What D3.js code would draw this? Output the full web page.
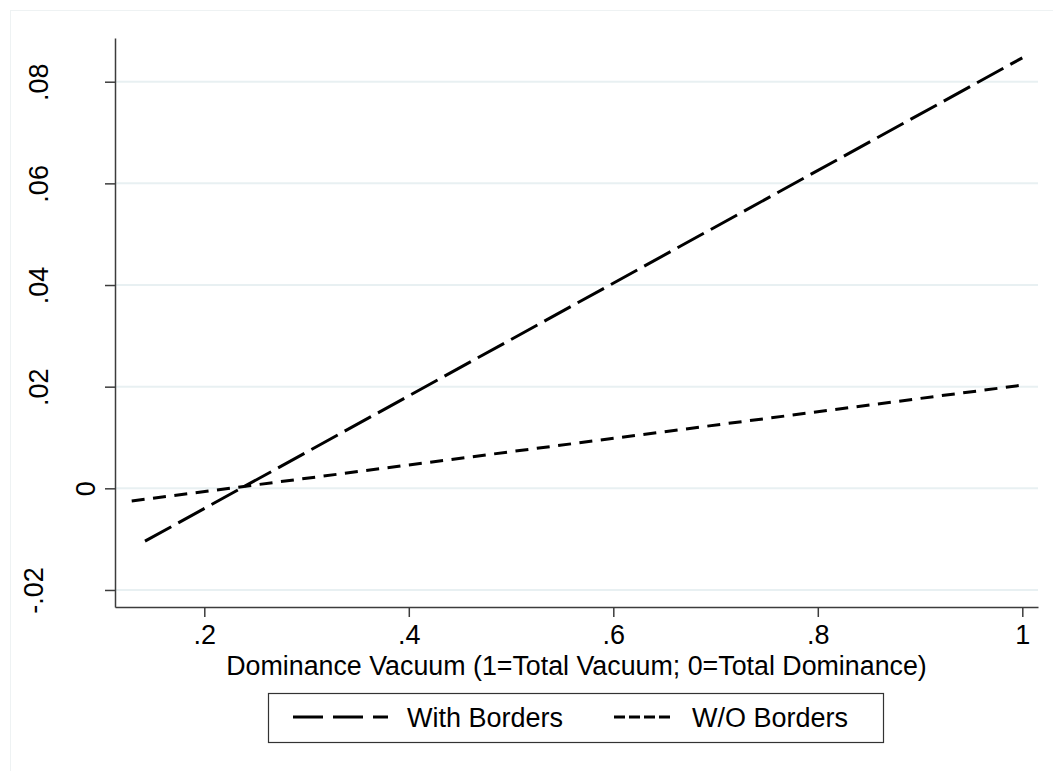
<!DOCTYPE html>
<html><head><meta charset="utf-8">
<script src="https://cdn.jsdelivr.net/npm/d3@7"></script>
<style>
html,body{margin:0;padding:0;background:#fff;}
svg text{font-family:"Liberation Sans",Arial,sans-serif;fill:#000;}
</style></head>
<body>
<svg id="chart" width="1053" height="771"></svg>
<script>
// ---- data ----
const seriesNames = ["With Borders", "W/O Borders"];
const withBordersX = [0.142, 1.0];
const withBordersY = [-0.0104, 0.0847];
const woBordersX = [0.129, 1.0];
const woBordersY = [-0.0025, 0.0203];
const xTickValues = [0.2, 0.4, 0.6, 0.8, 1.0];
const xTickLabels = [".2", ".4", ".6", ".8", "1"];
const yTickValues = [-0.02, 0, 0.02, 0.04, 0.06, 0.08];
const yTickLabels = ["-.02", "0", ".02", ".04", ".06", ".08"];
const xTitle = "Dominance Vacuum (1=Total Vacuum; 0=Total Dominance)";

// ---- layout ----
const svg = d3.select("#chart");
const plot = {left:115, right:1038, top:38, bottom:607};
const fontSize = 27;

svg.append("rect").attr("x",10.5).attr("y",10.5).attr("width",1100).attr("height",1000)
  .attr("fill","#fff").attr("stroke","#eef2f3").attr("stroke-width",1);

const x = d3.scaleLinear().domain([0.11267, 1.01535]).range([plot.left, plot.right]);
const y = d3.scaleLinear().domain([-0.02335, 0.0886]).range([plot.bottom, plot.top]);

// grid
svg.append("g").selectAll("line").data(yTickValues).join("line")
  .attr("x1",plot.left).attr("x2",plot.right)
  .attr("y1",d=>y(d)).attr("y2",d=>y(d))
  .attr("stroke","#e8f0f2").attr("stroke-width",2);

// axes
const xAxis = d3.axisBottom(x).tickValues(xTickValues)
  .tickFormat((d,i)=>xTickLabels[i]).tickSizeInner(10).tickSizeOuter(0).tickPadding(6);
const gx = svg.append("g").attr("transform",`translate(0,${plot.bottom})`).call(xAxis);
gx.select(".domain").attr("stroke","#3c3c3c").attr("stroke-width",1.5);
gx.selectAll(".tick line").attr("stroke","#3c3c3c").attr("stroke-width",1.5);
gx.selectAll(".tick text").attr("font-size",fontSize).attr("dy",null)
  .attr("y",37).attr("fill","#000");

const yAxis = d3.axisLeft(y).tickValues(yTickValues)
  .tickFormat((d,i)=>yTickLabels[i]).tickSizeInner(10).tickSizeOuter(0);
const gy = svg.append("g").attr("transform",`translate(${plot.left},0)`).call(yAxis);
gy.select(".domain").attr("stroke","#3c3c3c").attr("stroke-width",1.5);
gy.selectAll(".tick line").attr("stroke","#3c3c3c").attr("stroke-width",1.5);
gy.selectAll(".tick text").remove();
// rotated y labels (Stata-style: offset depends on label length)
gy.selectAll(".tick").each(function(d,i){
  const lab = yTickLabels[i];
  const bx = lab.length === 1 ? -20 : (lab.length === 3 ? -67 : -72);
  d3.select(this).append("text")
    .attr("transform",`translate(${bx},0) rotate(-90)`)
    .attr("text-anchor","middle").attr("font-size",fontSize).attr("fill","#000")
    .text(lab);
});
svg.selectAll(".tick text").attr("font-family","Liberation Sans, Arial, sans-serif");

// x title
svg.append("text").attr("x",(plot.left+plot.right)/2).attr("y",675)
  .attr("text-anchor","middle").attr("font-size",26.8).text(xTitle);

// lines
const line = d3.line().x(d=>x(d[0])).y(d=>y(d[1]));
const series = [
  {name:seriesNames[0], pts:d3.zip(withBordersX, withBordersY), dash:"30,8", ldash:"30,10"},
  {name:seriesNames[1], pts:d3.zip(woBordersX, woBordersY), dash:"13,8.5", ldash:"11,4"}
];
svg.append("g").selectAll("path").data(series).join("path")
  .attr("d",d=>line(d.pts)).attr("fill","none").attr("stroke","#000")
  .attr("stroke-width",3).attr("stroke-dasharray",d=>d.dash);

// legend
const lg = svg.append("g");
lg.append("rect").attr("x",268.5).attr("y",693.5).attr("width",615).attr("height",49)
  .attr("fill","#fff").attr("stroke","#333").attr("stroke-width",1.2);
const legItems = [
  {s:series[0], x1:293, x2:388, tx:407},
  {s:series[1], x1:614, x2:673, tx:692}
];
legItems.forEach(it=>{
  lg.append("line").attr("x1",it.x1).attr("x2",it.x2).attr("y1",717).attr("y2",717)
    .attr("stroke","#000").attr("stroke-width",3).attr("stroke-dasharray",it.s.ldash);
  lg.append("text").attr("x",it.tx).attr("y",727).attr("font-size",fontSize).text(it.s.name);
});
</script>
</body></html>
